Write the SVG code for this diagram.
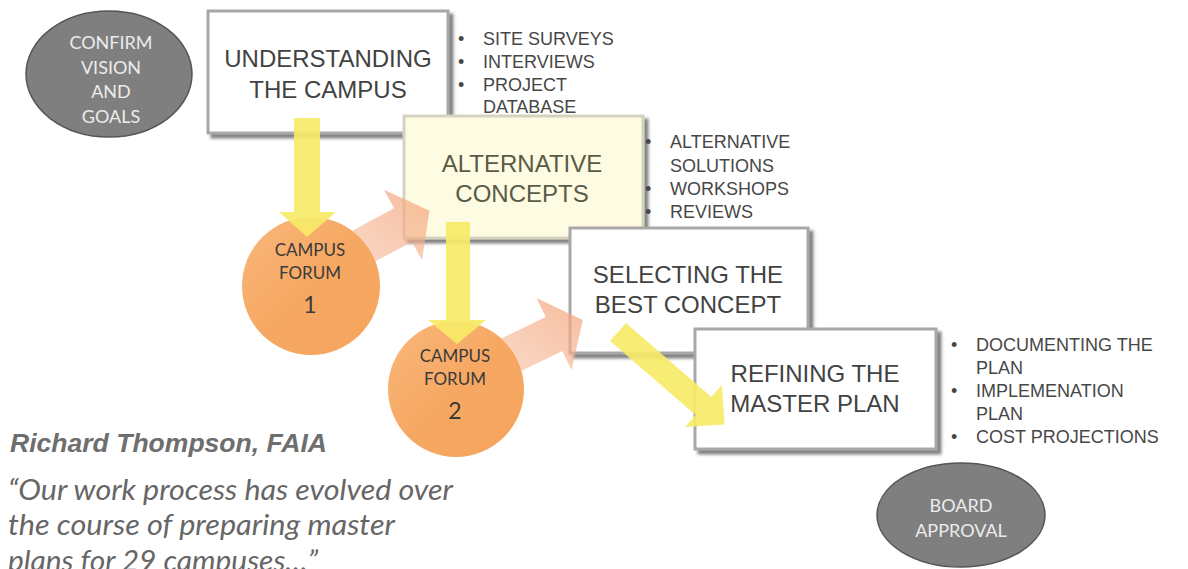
<svg xmlns="http://www.w3.org/2000/svg" width="1188" height="569" viewBox="0 0 1188 569">
<style>
  .box { stroke: #a8a8a8; stroke-width: 3; filter: url(#shadow); }
  .btxt { font-family: "Liberation Sans", Arial, sans-serif; font-size: 24px; fill: #424242; text-anchor: middle; }
  .list { font-family: "Liberation Sans", Arial, sans-serif; font-size: 18px; fill: #474747; }
  .oval { fill: #7f7f7f; stroke: #555; stroke-width: 1.5; }
  .otxt { font-family: Lato, "Open Sans", sans-serif; font-size: 18px; fill: #ececec; text-anchor: middle; }
  .circ { fill: url(#orange); }
  .ctxt { font-family: Lato, "Open Sans", sans-serif; font-size: 17px; fill: #3a3a3a; text-anchor: middle; }
  .cnum { font-family: Lato, "Open Sans", sans-serif; font-size: 23px; fill: #3a3a3a; text-anchor: middle; }
  .yel { fill: #f6ea68; fill-opacity: 0.92; }
  .peach { fill: url(#peachg); mask: url(#nocirc); }
  .quote { font-family: Lato, "Open Sans", sans-serif; font-style: italic; font-size: 28px; fill: #666; }
</style>
<defs>
  <filter id="shadow" x="-10%" y="-10%" width="125%" height="130%">
    <feDropShadow dx="4" dy="4" stdDeviation="1.5" flood-color="#5a5a5a" flood-opacity="0.75"/>
  </filter>
  <linearGradient id="orange" x1="0" y1="0" x2="1" y2="1">
    <stop offset="0" stop-color="#f9b77c"/>
    <stop offset="0.5" stop-color="#f6a862"/>
    <stop offset="1" stop-color="#f5a45d"/>
  </linearGradient>
  <linearGradient id="peachg" x1="0" y1="1" x2="1" y2="0">
    <stop offset="0" stop-color="#f8c7a8" stop-opacity="0.5"/>
    <stop offset="1" stop-color="#f3a47c" stop-opacity="0.75"/>
  </linearGradient>
  <mask id="nocirc" maskUnits="userSpaceOnUse" x="0" y="0" width="1188" height="569">
    <rect x="0" y="0" width="1188" height="569" fill="#fff"/>
    <circle cx="311" cy="286" r="69" fill="#000"/>
    <circle cx="456" cy="389" r="68" fill="#000"/>
  </mask>
</defs>
<rect x="0" y="0" width="1188" height="569" fill="#fff"/>

<g id="confirm">
  <ellipse class="oval" cx="109" cy="74" rx="83" ry="63"/>
  <text class="otxt" x="111" y="49">CONFIRM</text>
  <text class="otxt" x="111" y="74">VISION</text>
  <text class="otxt" x="111" y="98">AND</text>
  <text class="otxt" x="111" y="123">GOALS</text>
</g>

<g id="understanding">
  <rect class="box" x="208" y="11" width="240" height="122" fill="#fff"/>
  <text class="btxt" x="328" y="67">UNDERSTANDING</text>
  <text class="btxt" x="328" y="98">THE CAMPUS</text>
  <text class="list" x="458" y="45">•</text>
  <text class="list" x="483" y="45">SITE SURVEYS</text>
  <text class="list" x="458" y="68">•</text>
  <text class="list" x="483" y="68">INTERVIEWS</text>
  <text class="list" x="458" y="91">•</text>
  <text class="list" x="483" y="91">PROJECT</text>
  <text class="list" x="483" y="113">DATABASE</text>
</g>

<g id="alternative">
  <rect class="box" x="404" y="116" width="239" height="122" style="fill:#fdfbe1; stroke:#d4d3bf"/>
  <text class="btxt" x="522" y="172" style="fill:#5a5a46">ALTERNATIVE</text>
  <text class="btxt" x="522" y="202" style="fill:#5a5a46">CONCEPTS</text>
  <text class="list" x="645" y="148">•</text>
  <text class="list" x="670" y="148">ALTERNATIVE</text>
  <text class="list" x="670" y="172">SOLUTIONS</text>
  <text class="list" x="645" y="195">•</text>
  <text class="list" x="670" y="195">WORKSHOPS</text>
  <text class="list" x="645" y="218">•</text>
  <text class="list" x="670" y="218">REVIEWS</text>
</g>

<g id="selecting">
  <rect class="box" x="570" y="228" width="238" height="125" fill="#fff"/>
  <text class="btxt" x="688" y="283">SELECTING THE</text>
  <text class="btxt" x="688" y="313">BEST CONCEPT</text>
</g>

<g id="refining">
  <rect class="box" x="695" y="329" width="241" height="120" fill="#fff"/>
  <text class="btxt" x="815" y="382">REFINING THE</text>
  <text class="btxt" x="815" y="412">MASTER PLAN</text>
  <text class="list" x="951" y="351">•</text>
  <text class="list" x="976" y="351">DOCUMENTING THE</text>
  <text class="list" x="976" y="374">PLAN</text>
  <text class="list" x="951" y="397">•</text>
  <text class="list" x="976" y="397">IMPLEMENATION</text>
  <text class="list" x="976" y="420">PLAN</text>
  <text class="list" x="951" y="443">•</text>
  <text class="list" x="976" y="443">COST PROJECTIONS</text>
</g>

<g id="forum1">
  <circle class="circ" cx="311" cy="286" r="69"/>
  <text class="ctxt" x="310" y="256">CAMPUS</text>
  <text class="ctxt" x="310" y="279">FORUM</text>
  <text class="cnum" x="310" y="313">1</text>
</g>

<g id="forum2">
  <circle class="circ" cx="456" cy="389" r="68"/>
  <text class="ctxt" x="455" y="362">CAMPUS</text>
  <text class="ctxt" x="455" y="385">FORUM</text>
  <text class="cnum" x="455" y="419">2</text>
</g>

<g id="board">
  <ellipse class="oval" cx="961" cy="515" rx="84" ry="52"/>
  <text class="otxt" x="961" y="512">BOARD</text>
  <text class="otxt" x="961" y="537">APPROVAL</text>
</g>

<g id="connectors">
  <polygon class="peach" points="306,255.8 394,208.3 384,189.8 429.4,210.8 422,260.2 412,241.7 324,289.2"/>
  <polygon class="peach" points="455.7,360.6 545.7,316.9 536.5,298 582.8,320 571.5,370 562.3,351.1 472.3,394.8"/>
  <polygon class="yel" points="294,118 320,118 320,212 336,212 307,237 279,212 294,212"/>
  <polygon class="yel" points="446,222 470,222 470,320 486,320 457,344 428,320 446,320"/>
  <polygon class="yel" points="625.9,323 711.4,397 721.9,384.9 724.6,424.4 685.1,427.1 695.6,415 610.1,341"/>
</g>

<g id="quote">
  <text x="10" y="452" font-family="Liberation Sans, Arial, sans-serif" font-size="26" font-weight="bold" font-style="italic" fill="#6e6e6e" textLength="317" lengthAdjust="spacingAndGlyphs">Richard Thompson, FAIA</text>
  <text class="quote" x="8" y="500" textLength="445" lengthAdjust="spacingAndGlyphs">“Our work process has evolved over</text>
  <text class="quote" x="8" y="535" textLength="387" lengthAdjust="spacingAndGlyphs">the course of preparing master</text>
  <text class="quote" x="8" y="571" textLength="310" lengthAdjust="spacingAndGlyphs">plans for 29 campuses…”</text>
</g>
</svg>
